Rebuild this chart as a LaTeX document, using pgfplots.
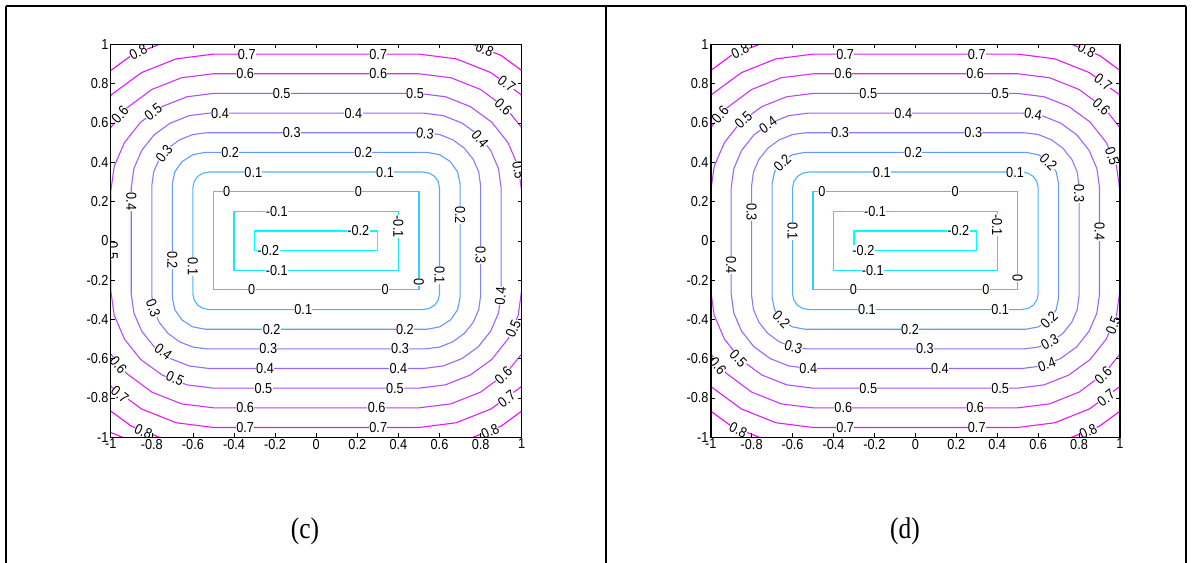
\documentclass[border=0pt]{standalone}
\usepackage{fontspec}
\setmainfont{Liberation Serif}
\newfontfamily\labfont[FakeStretch=0.88]{Liberation Sans}
\newfontfamily\capfont[FakeStretch=0.85]{Liberation Serif}
\usepackage{pgfplots}
\pgfplotsset{compat=1.18}
\definecolor{Lm2}{rgb}{0,1,1}
\definecolor{Lm1}{rgb}{0.1,0.9,1}
\definecolor{L0}{rgb}{0.2,0.8,1}
\definecolor{L1}{rgb}{0.3,0.7,1}
\definecolor{L2}{rgb}{0.4,0.6,1}
\definecolor{L3}{rgb}{0.5,0.5,1}
\definecolor{L4}{rgb}{0.6,0.4,1}
\definecolor{L5}{rgb}{0.7,0.3,1}
\definecolor{L6}{rgb}{0.8,0.2,1}
\definecolor{L7}{rgb}{0.9,0.1,1}
\definecolor{L8}{rgb}{1,0,1}
\tikzset{cl/.style={font=\labfont\fontsize{14.5}{14.5}\selectfont, fill=white, inner sep=0.3bp, text=black}}
\newcommand\lab[4]{\node[cl,rotate=#3] at (axis cs:#1,#2) {#4};}
\pgfplotsset{panel/.style={
  scale only axis, width=411bp, height=393bp,
  xmin=-1,xmax=1,ymin=-1,ymax=1,
  xtick={-1,-0.8,-0.6,-0.4,-0.2,0,0.2,0.4,0.6,0.8,1},
  ytick={-1,-0.8,-0.6,-0.4,-0.2,0,0.2,0.4,0.6,0.8,1},
  xticklabels={-1,-0.8,-0.6,-0.4,-0.2,0,0.2,0.4,0.6,0.8,1},
  yticklabels={-1,-0.8,-0.6,-0.4,-0.2,0,0.2,0.4,0.6,0.8,1},
  tick align=inside, major tick length=4bp,
  ticklabel style={font=\labfont\fontsize{14.5}{14.5}\selectfont, text=black},
  xticklabel style={inner sep=1.5bp},
  yticklabel style={inner sep=2bp},
  every tick/.style={black, line width=0.5bp},
  axis on top,
  every axis plot/.append style={line width=1.1bp},
}}
\newcommand\contours{%
\addplot[Lm2] coordinates {(0.3,0)(0.3,0.05)(-0.3,0.05)(-0.3,-0.05)(0.3,-0.05)(0.3,0)};
\addplot[Lm1] coordinates {(0.4,0)(0.4,0.15)(-0.4,0.15)(-0.4,-0.15)(0.4,-0.15)(0.4,0)};
\addplot[L0] coordinates {(0.5,0)(0.5,0.25)(-0.5,0.25)(-0.5,-0.25)(0.5,-0.25)(0.5,0)};
\addplot[L1] coordinates {(.6,0)(.600,.270)(.594,.301)(.577,.327)(.551,.344)(.520,.350)(-.520,.350)(-.551,.344)(-.577,.327)(-.594,.301)(-.600,.270)(-.600,-.270)(-.594,-.301)(-.577,-.327)(-.551,-.344)(-.520,-.350)(.520,-.350)(.551,-.344)(.577,-.327)(.594,-.301)(.600,-.270)(.6,0)};
\addplot[L2] coordinates {(.7,0)(.700,.290)(.688,.351)(.653,.403)(.601,.438)(.540,.450)(-.540,.450)(-.601,.438)(-.653,.403)(-.688,.351)(-.700,.290)(-.700,-.290)(-.688,-.351)(-.653,-.403)(-.601,-.438)(-.540,-.450)(.540,-.450)(.601,-.438)(.653,-.403)(.688,-.351)(.700,-.290)(.7,0)};
\addplot[L3] coordinates {(.8,0)(.800,.280)(.791,.350)(.764,.415)(.721,.471)(.665,.514)(.600,.541)(.530,.550)(-.530,.550)(-.600,.541)(-.665,.514)(-.721,.471)(-.764,.415)(-.791,.350)(-.800,.280)(-.800,-.280)(-.791,-.350)(-.764,-.415)(-.721,-.471)(-.665,-.514)(-.600,-.541)(-.530,-.550)(.530,-.550)(.600,-.541)(.665,-.514)(.721,-.471)(.764,-.415)(.791,-.350)(.800,-.280)(.8,0)};
\addplot[L4] coordinates {(.9,0)(.900,.270)(.887,.368)(.849,.460)(.789,.539)(.710,.599)(.618,.637)(.520,.650)(-.520,.650)(-.618,.637)(-.710,.599)(-.789,.539)(-.849,.460)(-.887,.368)(-.900,.270)(-.900,-.270)(-.887,-.368)(-.849,-.460)(-.789,-.539)(-.710,-.599)(-.618,-.637)(-.520,-.650)(.520,-.650)(.618,-.637)(.710,-.599)(.789,-.539)(.849,-.460)(.887,-.368)(.900,-.270)(.9,0)};
\addplot[L5] coordinates {(1,0)(1.000,.250)(.983,.379)(.933,.500)(.854,.604)(.750,.683)(.629,.733)(.500,.750)(-.500,.750)(-.629,.733)(-.750,.683)(-.854,.604)(-.933,.500)(-.983,.379)(-1.000,.250)(-1.000,-.250)(-.983,-.379)(-.933,-.500)(-.854,-.604)(-.750,-.683)(-.629,-.733)(-.500,-.750)(.500,-.750)(.629,-.733)(.750,-.683)(.854,-.604)(.933,-.500)(.983,-.379)(1.000,-.250)(1,0)};
\addplot[L6] coordinates {(1.1,0)(1.100,.250)(1.080,.405)(1.020,.550)(.924,.674)(.800,.770)(.655,.830)(.500,.850)(-.500,.850)(-.655,.830)(-.800,.770)(-.924,.674)(-1.020,.550)(-1.080,.405)(-1.100,.250)(-1.100,-.250)(-1.080,-.405)(-1.020,-.550)(-.924,-.674)(-.800,-.770)(-.655,-.830)(-.500,-.850)(.500,-.850)(.655,-.830)(.800,-.770)(.924,-.674)(1.020,-.550)(1.080,-.405)(1.100,-.250)(1.1,0)};
\addplot[L7] coordinates {(1.2,0)(1.200,.250)(1.176,.431)(1.106,.600)(.995,.745)(.850,.856)(.681,.926)(.500,.950)(-.500,.950)(-.681,.926)(-.850,.856)(-.995,.745)(-1.106,.600)(-1.176,.431)(-1.200,.250)(-1.200,-.250)(-1.176,-.431)(-1.106,-.600)(-.995,-.745)(-.850,-.856)(-.681,-.926)(-.500,-.950)(.500,-.950)(.681,-.926)(.850,-.856)(.995,-.745)(1.106,-.600)(1.176,-.431)(1.200,-.250)(1.2,0)};
\addplot[L8] coordinates {(1.3,0)(1.300,.250)(1.273,.457)(1.193,.650)(1.066,.816)(.900,.943)(.707,1.023)(.500,1.050)(-.500,1.050)(-.707,1.023)(-.900,.943)(-1.066,.816)(-1.193,.650)(-1.273,.457)(-1.300,.250)(-1.300,-.250)(-1.273,-.457)(-1.193,-.650)(-1.066,-.816)(-.900,-.943)(-.707,-1.023)(-.500,-1.050)(.500,-1.050)(.707,-1.023)(.900,-.943)(1.066,-.816)(1.193,-.650)(1.273,-.457)(1.300,-.250)(1.3,0)};
}
\begin{document}
\begin{tikzpicture}
\path (0,0) rectangle (1192bp,-563bp);
\draw[line width=1.2bp] (6bp,-6bp) -- (1186bp,-6bp);
\draw[line width=1.2bp] (6bp,-6bp) -- (6bp,-563bp);
\draw[line width=1.2bp] (606bp,-6bp) -- (606bp,-563bp);
\draw[line width=1.2bp] (1186bp,-6bp) -- (1186bp,-563bp);
% ---------------- panel (c)
\begin{axis}[panel, at={(110.7bp,-437.3bp)}, anchor=south west, axis line style={line width=0.6bp}]
\contours
\addplot[L8] coordinates {(-1.03,-0.964)(-0.97,-0.988)(-0.92,-1.01)};
\lab{-0.866}{0.961}{27}{0.8}
\lab{-0.338}{0.95}{0}{0.7}
\lab{0.302}{0.95}{0}{0.7}
\lab{-0.346}{0.85}{0}{0.6}
\lab{0.302}{0.85}{0}{0.6}
\lab{-0.168}{0.75}{0}{0.5}
\lab{0.481}{0.75}{0}{0.5}
\lab{-0.468}{0.65}{0}{0.4}
\lab{0.181}{0.65}{0}{0.4}
\lab{-0.119}{0.55}{0}{0.3}
\lab{0.53}{0.545}{-8}{0.3}
\lab{-0.419}{0.45}{0}{0.2}
\lab{0.229}{0.45}{0}{0.2}
\lab{-0.306}{0.35}{0}{0.1}
\lab{0.335}{0.35}{0}{0.1}
\lab{-0.436}{0.25}{0}{0}
\lab{0.205}{0.25}{0}{0}
\lab{-0.192}{0.15}{0}{-0.1}
\lab{0.205}{0.05}{0}{-0.2}
\lab{-0.955}{0.641}{49}{0.6}
\lab{-0.793}{0.655}{38}{0.5}
\lab{-0.74}{0.445}{52}{0.3}
\lab{-0.9}{0.20}{-90}{0.4}
\lab{0.82}{0.975}{-24}{0.8}
\lab{0.927}{0.80}{-38}{0.7}
\lab{0.911}{0.68}{-44}{0.6}
\lab{0.797}{0.52}{-50}{0.4}
\lab{0.985}{0.36}{-80}{0.5}
\lab{0.70}{0.131}{-90}{0.2}
\lab{0.40}{0.072}{-90}{-0.1}
\lab{-0.99}{-0.05}{-90}{0.5}
\lab{-0.70}{-0.098}{-90}{0.2}
\lab{-0.60}{-0.132}{-90}{0.1}
\lab{-0.233}{-0.05}{0}{-0.2}
\lab{-0.192}{-0.15}{0}{-0.1}
\lab{-0.314}{-0.25}{0}{0}
\lab{-0.063}{-0.35}{0}{0.1}
\lab{-0.793}{-0.345}{-70}{0.3}
\lab{-0.217}{-0.45}{0}{0.2}
\lab{-0.744}{-0.565}{-38}{0.4}
\lab{-0.233}{-0.55}{0}{0.3}
\lab{-0.249}{-0.65}{0}{0.4}
\lab{-0.687}{-0.70}{-24}{0.5}
\lab{-0.963}{-0.632}{-50}{0.6}
\lab{-0.257}{-0.75}{0}{0.5}
\lab{-0.955}{-0.782}{-40}{0.7}
\lab{-0.346}{-0.85}{0}{0.6}
\lab{-0.346}{-0.95}{0}{0.7}
\lab{-0.841}{-0.97}{-25}{0.8}
\lab{0.50}{-0.208}{-90}{0}
\lab{0.60}{-0.174}{-90}{0.1}
\lab{0.80}{-0.072}{-90}{0.3}
\lab{0.897}{-0.28}{85}{0.4}
\lab{0.959}{-0.448}{66}{0.5}
\lab{0.911}{-0.685}{43}{0.6}
\lab{0.927}{-0.805}{37}{0.7}
\lab{0.846}{-0.97}{25}{0.8}
\lab{0.335}{-0.25}{0}{0}
\lab{0.432}{-0.45}{0}{0.2}
\lab{0.408}{-0.55}{0}{0.3}
\lab{0.40}{-0.65}{0}{0.4}
\lab{0.383}{-0.75}{0}{0.5}
\lab{0.294}{-0.85}{0}{0.6}
\lab{0.302}{-0.95}{0}{0.7}
\end{axis}
% ---------------- panel (d)
\begin{axis}[panel, width=409.3bp, at={(710.7bp,-437.3bp)}, anchor=south west, axis line style={line width=1.6bp}]
\contours
\lab{-0.856}{0.965}{26}{0.8}
\lab{-0.343}{0.95}{0}{0.7}
\lab{0.30}{0.95}{0}{0.7}
\lab{-0.352}{0.85}{0}{0.6}
\lab{0.292}{0.85}{0}{0.6}
\lab{-0.23}{0.75}{0}{0.5}
\lab{0.414}{0.75}{0}{0.5}
\lab{-0.059}{0.65}{0}{0.4}
\lab{0.576}{0.645}{-9}{0.4}
\lab{-0.368}{0.55}{0}{0.3}
\lab{0.283}{0.55}{0}{0.3}
\lab{-0.01}{0.45}{0}{0.2}
\lab{-0.164}{0.35}{0}{0.1}
\lab{0.487}{0.35}{0}{0.1}
\lab{-0.457}{0.25}{0}{0}
\lab{0.194}{0.25}{0}{0}
\lab{-0.197}{0.15}{0}{-0.1}
\lab{0.21}{0.05}{0}{-0.2}
\lab{-0.954}{0.64}{49}{0.6}
\lab{-0.84}{0.615}{43}{0.5}
\lab{-0.72}{0.59}{35}{0.4}
\lab{-0.65}{0.395}{45}{0.2}
\lab{-0.8}{0.147}{-90}{0.3}
\lab{-0.6}{0.05}{-90}{0.1}
\lab{-0.9}{-0.123}{-90}{0.4}
\lab{0.837}{0.972}{-25}{0.8}
\lab{0.918}{0.808}{-37}{0.7}
\lab{0.91}{0.683}{-43}{0.6}
\lab{0.962}{0.43}{-70}{0.5}
\lab{0.65}{0.40}{-45}{0.2}
\lab{0.8}{0.24}{-90}{0.3}
\lab{0.9}{0.046}{-90}{0.4}
\lab{0.4}{0.08}{-90}{-0.1}
\lab{-0.254}{-0.05}{0}{-0.2}
\lab{-0.208}{-0.15}{0}{-0.1}
\lab{-0.303}{-0.25}{0}{0}
\lab{-0.237}{-0.35}{0}{0.1}
\lab{-0.655}{-0.40}{-45}{0.2}
\lab{-0.026}{-0.45}{0}{0.2}
\lab{-0.596}{-0.54}{-15}{0.3}
\lab{-0.865}{-0.60}{-46}{0.5}
\lab{-0.965}{-0.635}{-50}{0.6}
\lab{-0.523}{-0.65}{0}{0.4}
\lab{-0.23}{-0.75}{0}{0.5}
\lab{-0.352}{-0.85}{0}{0.6}
\lab{-0.343}{-0.95}{0}{0.7}
\lab{-0.865}{-0.962}{-26}{0.8}
\lab{0.5}{-0.19}{-90}{0}
\lab{0.345}{-0.25}{0}{0}
\lab{0.414}{-0.35}{0}{0.1}
\lab{0.653}{-0.403}{45}{0.2}
\lab{0.047}{-0.55}{0}{0.3}
\lab{0.657}{-0.515}{28}{0.3}
\lab{0.12}{-0.65}{0}{0.4}
\lab{0.642}{-0.63}{19}{0.4}
\lab{0.967}{-0.429}{69}{0.5}
\lab{0.414}{-0.75}{0}{0.5}
\lab{0.918}{-0.685}{44}{0.6}
\lab{0.292}{-0.85}{0}{0.6}
\lab{0.932}{-0.80}{38}{0.7}
\lab{0.30}{-0.95}{0}{0.7}
\lab{0.845}{-0.97}{25}{0.8}
\end{axis}
\node[font=\capfont\fontsize{30}{30}\selectfont] at (305bp,-531bp) {(c)};
\node[font=\capfont\fontsize{30}{30}\selectfont] at (905bp,-531bp) {(d)};
\pgfresetboundingbox
\path (0,0) rectangle (1192bp,-563bp);
\end{tikzpicture}
\end{document}
